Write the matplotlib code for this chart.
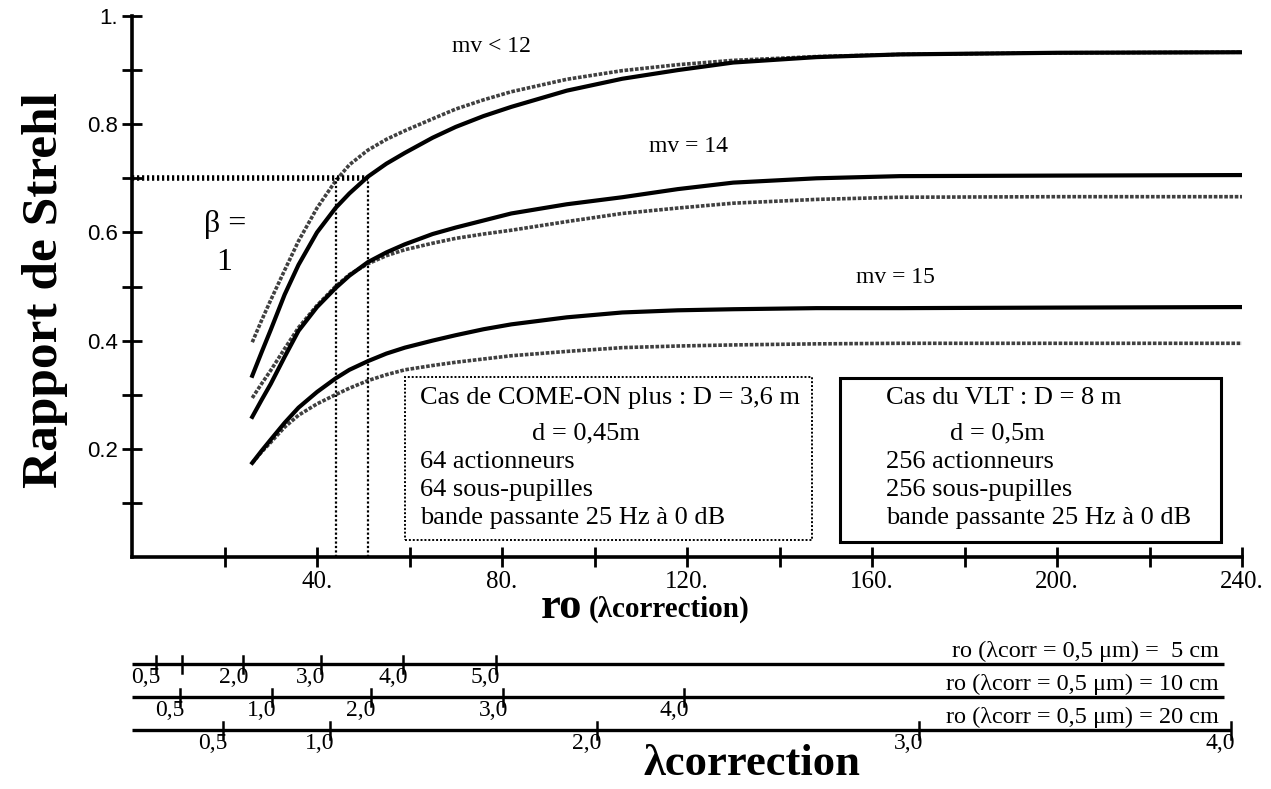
import matplotlib.pyplot as plt
from matplotlib.patches import Rectangle

# ---- data ----
ro = [26, 28, 30, 33, 36, 40, 44, 47, 51, 55, 59, 65, 70, 76, 82, 94, 106, 118, 130, 148, 166, 200, 240]

# COME-ON plus (hatched trace) and VLT (solid trace), three magnitudes
comeon_mv12 = [0.397, 0.437, 0.475, 0.53, 0.584, 0.645, 0.695, 0.725, 0.752, 0.772, 0.788, 0.81, 0.828, 0.845, 0.86, 0.883, 0.899, 0.91, 0.918, 0.925, 0.929, 0.932, 0.933]
vlt_mv12 = [0.335, 0.378, 0.42, 0.485, 0.54, 0.60, 0.645, 0.672, 0.703, 0.727, 0.747, 0.775, 0.795, 0.815, 0.832, 0.862, 0.884, 0.90, 0.914, 0.924, 0.929, 0.932, 0.933]
comeon_mv14 = [0.294, 0.32, 0.345, 0.385, 0.424, 0.465, 0.50, 0.522, 0.542, 0.557, 0.568, 0.58, 0.589, 0.597, 0.604, 0.62, 0.635, 0.645, 0.654, 0.661, 0.665, 0.666, 0.666]
vlt_mv14 = [0.259, 0.29, 0.32, 0.37, 0.418, 0.462, 0.497, 0.52, 0.545, 0.563, 0.578, 0.597, 0.609, 0.622, 0.635, 0.652, 0.665, 0.68, 0.692, 0.70, 0.704, 0.705, 0.706]
comeon_mv15 = [0.174, 0.194, 0.212, 0.24, 0.262, 0.283, 0.30, 0.312, 0.326, 0.337, 0.346, 0.354, 0.36, 0.366, 0.372, 0.38, 0.387, 0.39, 0.392, 0.394, 0.395, 0.395, 0.395]
vlt_mv15 = [0.174, 0.196, 0.217, 0.248, 0.276, 0.305, 0.33, 0.346, 0.362, 0.376, 0.387, 0.40, 0.41, 0.421, 0.43, 0.443, 0.452, 0.456, 0.458, 0.46, 0.46, 0.461, 0.462]

# beta = 1 read-off
beta_strehl = 0.70
beta_ro = [44, 51]

mv_labels = ["mv < 12", "mv = 14", "mv = 15"]
mv_label_pos = [(77.7, 0.943), (120.3, 0.758), (165, 0.516)]

comeon_text = ["Cas de COME-ON plus : D = 3,6 m", "d = 0,45m", "64 actionneurs",
               "64 sous-pupilles", "bande passante 25 Hz à 0 dB"]
vlt_text = ["Cas du VLT : D = 8 m", "d = 0,5m", "256 actionneurs",
            "256 sous-pupilles", "bande passante 25 Hz à 0 dB"]

# secondary lambda scales (tick positions in ro units)
scale_names = ["ro (λcorr = 0,5 μm) =  5 cm", "ro (λcorr = 0,5 μm) = 10 cm", "ro (λcorr = 0,5 μm) = 20 cm"]
scale_ticks = [[5.1, 10.8, 24.1, 40.8, 58.7, 78.6],
               [10.4, 30.2, 51.6, 80.3, 119.4],
               [19.7, 42.8, 100.6, 170.2, 237.6]]
scale_labels = [["0,5", "", "2,0", "3,0", "4,0", "5,0"],
                ["0,5", "1,0", "2,0", "3,0", "4,0"],
                ["0,5", "1,0", "2,0", "3,0", "4,0"]]

W, H = 1271, 789
serif = "Liberation Serif"

fig = plt.figure(figsize=(W / 100, H / 100), dpi=100)
left, right, top, base = 132, 1242, 16, 557
ax = fig.add_axes([left / W, 1 - base / H, (right - left) / W, (base - top) / H])
ax.set_xlim(0, 240)
ax.set_ylim(0, 1)

for s in ["top", "right"]:
    ax.spines[s].set_visible(False)
for s in ["left", "bottom"]:
    ax.spines[s].set_linewidth(2.6)

ax.tick_params(direction="inout", length=14, width=2, pad=3)
xt = list(range(20, 241, 20))
ax.set_xticks(xt)
ax.set_xticklabels([f"{v}." if v % 40 == 0 else "" for v in xt])
yt = [0.1 * i for i in range(1, 11)]
ylab = {2: "0.2", 4: "0.4", 6: "0.6", 8: "0.8", 10: "1."}
ax.set_yticks(yt)
ax.set_yticklabels([ylab.get(i, "") for i in range(1, 11)])
for t in ax.get_xticklabels():
    t.set_fontfamily(serif)
    t.set_fontsize(18)
for t in ax.get_yticklabels():
    t.set_fontfamily("Liberation Sans")
    t.set_fontsize(16)

hatched = dict(color="0.25", lw=2.6, ls=(0, (1, 0.45)), solid_capstyle="butt")
solid = dict(color="black", lw=3.0)
ax.plot(ro, comeon_mv12, **hatched)
ax.plot(ro, vlt_mv12, **solid)
ax.plot(ro, comeon_mv14, **hatched)
ax.plot(ro, vlt_mv14, **solid)
ax.plot(ro, comeon_mv15, **hatched)
ax.plot(ro, vlt_mv15, **solid)

# beta = 1 construction lines
ax.plot([0, beta_ro[1]], [beta_strehl, beta_strehl], color="black", lw=4, ls=(0, (0.4, 0.5)))
for r in beta_ro:
    ax.plot([r, r], [0, beta_strehl], color="black", lw=1.6, ls=(0, (1, 1)))
ax.text(20.1, 0.615, "β =", fontfamily=serif, fontsize=23, ha="center", va="center")
ax.text(19.9, 0.545, "1", fontfamily=serif, fontsize=23, ha="center", va="center")

for lab, (x, y) in zip(mv_labels, mv_label_pos):
    ax.text(x, y, lab, fontfamily=serif, fontsize=17, ha="center", va="center")

# parameter boxes
ax.add_patch(Rectangle((59, 0.031), 88, 0.302, fill=False, lw=1.4, ls=(0, (1, 1)), color="black"))
ax.add_patch(Rectangle((153, 0.028), 82.4, 0.303, fill=False, lw=2.2, color="black"))
rows = [0.294, 0.229, 0.176, 0.124, 0.072]
for i, (t1, t2) in enumerate(zip(comeon_text, vlt_text)):
    x1 = 86.4 if i == 1 else 62.3
    x2 = 176.8 if i == 1 else 163
    ax.text(x1, rows[i], t1, fontfamily=serif, fontsize=19, va="center")
    ax.text(x2, rows[i], t2, fontfamily=serif, fontsize=19, va="center")

# axis titles
fig.text(45 / W, 1 - 290 / H, "Rapport de Strehl", rotation=90, fontfamily=serif,
         fontweight="bold", fontsize=37, ha="center", va="center")
fig.text(582 / W, 1 - 607 / H, "ro", fontfamily=serif, fontweight="bold", fontsize=32,
         ha="right", va="center")
fig.text(589 / W, 1 - 609 / H, "(λcorrection)", fontfamily=serif, fontweight="bold",
         fontsize=21, ha="left", va="center")

# secondary lambda scales below
axb = fig.add_axes([left / W, 0, (right - left) / W, 169 / H])
axb.set_xlim(0, 240)
axb.set_ylim(789, 620)
axb.axis("off")
rows_px = [664, 697, 730]
ends = [236, 236, 237.6]
for name, ticks, labs, yrow, xend in zip(scale_names, scale_ticks, scale_labels, rows_px, ends):
    axb.plot([0, xend], [yrow, yrow], color="black", lw=2.4, solid_capstyle="butt")
    for t, lab in zip(ticks, labs):
        axb.plot([t, t], [yrow - 8, yrow + 9], color="black", lw=1.8)
        if lab:
            axb.text(t - 2.2, yrow + 3, lab, fontfamily=serif, fontsize=17, ha="center", va="top")
    axb.text(235, yrow - 2, name, fontfamily=serif, fontsize=17.5, ha="right", va="bottom")

fig.text(752 / W, 1 - 764 / H, "λcorrection", fontfamily=serif, fontweight="bold",
         fontsize=32, ha="center", va="center")

fig.savefig("out.png", dpi=100)
